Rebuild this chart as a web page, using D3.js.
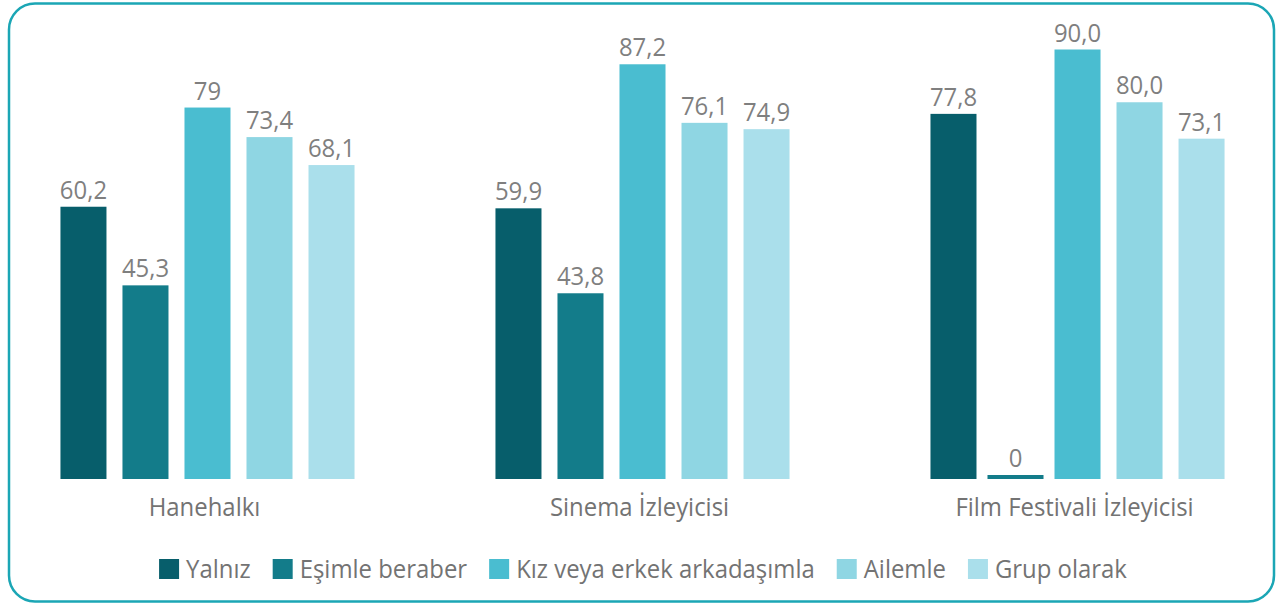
<!DOCTYPE html>
<html>
<head>
<meta charset="utf-8">
<script src="https://cdn.jsdelivr.net/npm/d3@7"></script>
<style>
  body { margin: 0; background: #fff; }
  text { font-family: "Open Sans", sans-serif; font-size: 26px; }
</style>
</head>
<body>
<script>
var width = 1283,
    height = 606,
    sx = 0.92; // squeeze text horizontally, closer to the original narrow face

// data
var categories = ["Hanehalkı", "Sinema İzleyicisi", "Film Festivali İzleyicisi"];
var series = ["Yalnız", "Eşimle beraber", "Kız veya erkek arkadaşımla", "Ailemle", "Grup olarak"];
var yalniz = [60.2, 59.9, 77.8];
var esimle = [45.3, 43.8, 0];
var arkadas = [79, 87.2, 90.0];
var ailemle = [73.4, 76.1, 80.0];
var grup = [68.1, 74.9, 73.1];
var labels = [
    ["60,2", "59,9", "77,8"],
    ["45,3", "43,8", "0"],
    ["79", "87,2", "90,0"],
    ["73,4", "76,1", "80,0"],
    ["68,1", "74,9", "73,1"]
];
var colors = ["#075e6b", "#137c8a", "#4abdd0", "#8fd6e3", "#aadfeb"];

var values = [yalniz, esimle, arkadas, ailemle, grup];

var svg = d3.select("body").append("svg")
    .attr("width", width)
    .attr("height", height);

svg.append("rect")
    .attr("x", 9)
    .attr("y", 3.5)
    .attr("width", 1265)
    .attr("height", 598)
    .attr("rx", 26)
    .attr("fill", "none")
    .attr("stroke", "#1ba6b5")
    .attr("stroke-width", 2.5);

var x0 = d3.scaleBand()
    .domain(categories)
    .range([20, 1265])
    .paddingInner(0.324)
    .paddingOuter(0.093);

var x1 = d3.scaleBand()
    .domain(series)
    .range([0, x0.bandwidth()])
    .paddingInner(0.258);

// value axis of the original does not start at zero
var y = d3.scaleLinear()
    .domain([8.6, 90])
    .range([479, 49.5])
    .clamp(true);

function squeezed(sel, x, yy) {
    return sel.append("text")
        .attr("transform", "translate(" + x + "," + yy + ")scale(" + sx + ",1)");
}

var rows = [];
categories.forEach(function(c, ci) {
    series.forEach(function(s, si) {
        rows.push({ cat: c, ser: s, si: si, v: values[si][ci], label: labels[si][ci] });
    });
});

rows.forEach(function(d) {
    var g = svg.append("g")
        .attr("transform", "translate(" + (x0(d.cat) + x1(d.ser)) + ",0)");
    var h = y(0) - y(d.v),
        thin = h < 4;
    var top = thin ? y(0) - 4 : y(d.v);
    g.append("rect")
        .attr("x", thin ? -5 : 0)
        .attr("y", top)
        .attr("width", x1.bandwidth() + (thin ? 10 : 0))
        .attr("height", y(0) - top)
        .attr("fill", colors[d.si]);
    squeezed(g, x1.bandwidth() / 2, top - 8)
        .attr("text-anchor", "middle")
        .attr("fill", "#7f7f7f")
        .text(d.label);
});

categories.forEach(function(c) {
    squeezed(svg, x0(c) + x0.bandwidth() / 2 - 3, 516)
        .attr("text-anchor", "middle")
        .attr("fill", "#737373")
        .text(c);
});

// legend
var legend = svg.append("g");
var lx = 0;
series.forEach(function(s, i) {
    var item = legend.append("g").attr("transform", "translate(" + lx + ",0)");
    item.append("rect")
        .attr("x", 0)
        .attr("y", 559)
        .attr("width", 20)
        .attr("height", 20)
        .attr("fill", colors[i]);
    var t = squeezed(item, 27, 578)
        .attr("fill", "#737373")
        .text(s);
    lx += 27 + t.node().getComputedTextLength() * sx + 22;
});
var lw = lx - 22;
legend.attr("transform", "translate(" + (643 - lw / 2) + ",0)");
</script>
</body>
</html>
